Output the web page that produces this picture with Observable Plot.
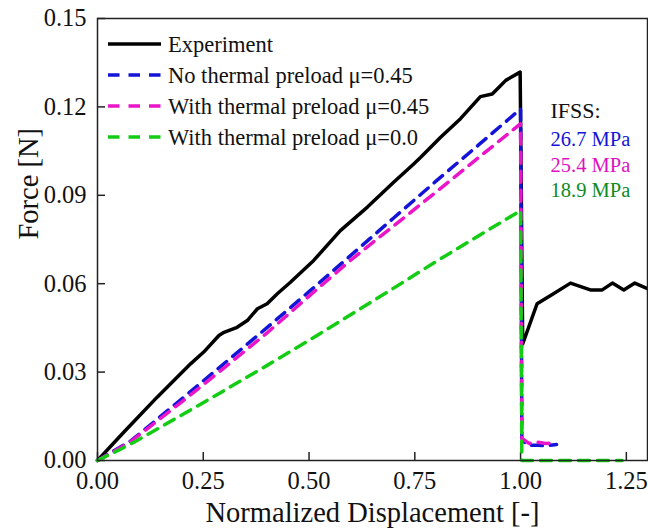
<!DOCTYPE html>
<html>
<head>
<meta charset="utf-8">
<script src="https://cdn.jsdelivr.net/npm/d3@7"></script>
<script src="https://cdn.jsdelivr.net/npm/@observablehq/plot@0.6"></script>
<style>
  html, body { margin: 0; padding: 0; background: #fff; }
  #chart { width: 648px; height: 530px; font-family: "Liberation Serif", serif; }
</style>
</head>
<body>
<div id="chart"></div>
<script>
// ---- Data ----
const expX = [0, 0.062, 0.141, 0.220, 0.251, 0.287, 0.299, 0.330, 0.354, 0.378, 0.401, 0.425, 0.456, 0.511, 0.574, 0.638, 0.700, 0.748, 0.764, 0.811, 0.858, 0.905, 0.933, 0.949, 0.965, 0.999, 1.005, 1.039, 1.071, 1.118, 1.165, 1.193, 1.217, 1.244, 1.270, 1.300];
const expY = [0, 0.0096, 0.0215, 0.0328, 0.0368, 0.0424, 0.0435, 0.0452, 0.0475, 0.0515, 0.0532, 0.0566, 0.0605, 0.0679, 0.0780, 0.0860, 0.0944, 0.1007, 0.1029, 0.1097, 0.1160, 0.1235, 0.1244, 0.1267, 0.1290, 0.1318, 0.0396, 0.0532, 0.0560, 0.0602, 0.0579, 0.0579, 0.0602, 0.0579, 0.0602, 0.0583];

const noPreX = [0, 0.04, 0.08, 0.2, 0.3, 0.4, 0.5, 0.6, 0.7, 0.8, 0.9, 1.0, 1.003, 1.015, 1.04, 1.06, 1.085];
const noPreY = [0, 0.0034, 0.0068, 0.0210, 0.0330, 0.0450, 0.0573, 0.0698, 0.0823, 0.0948, 0.1070, 0.1193, 0.0075, 0.0052, 0.0052, 0.0050, 0.0054];

const withX = [0, 0.04, 0.08, 0.2, 0.3, 0.4, 0.5, 0.6, 0.7, 0.8, 0.9, 1.0, 1.003, 1.02, 1.04, 1.06, 1.085];
const withY = [0, 0.0032, 0.0066, 0.0200, 0.0315, 0.0432, 0.0558, 0.0682, 0.0796, 0.0911, 0.1027, 0.1143, 0.0075, 0.0058, 0.0062, 0.0058, 0.0060];

const zeroX = [0, 0.05, 0.09, 0.2, 0.3, 0.4, 0.5, 0.6, 0.7, 0.8, 0.9, 1.0, 1.003, 1.24];
const zeroY = [0, 0.0035, 0.0065, 0.0155, 0.0238, 0.0322, 0.0408, 0.0496, 0.0585, 0.0675, 0.0762, 0.0848, 0.0, 0.0];

const seriesNames = ["Experiment", "No thermal preload \u03BC=0.45", "With thermal preload \u03BC=0.45", "With thermal preload \u03BC=0.0"];
const xTicks = [0, 0.25, 0.5, 0.75, 1.0, 1.25];
const yTicks = [0, 0.03, 0.06, 0.09, 0.12, 0.15];
const ifssTitle = "IFSS:";
const ifssLabels = ["26.7 MPa", "25.4 MPa", "18.9 MPa"];

// ---- Styles ----
const colExp = "#000000";
const colBlue = "#1414d8";
const colMag = "#ea14c8";
const colGreen = "#14cc14";
const ifssColors = ["#1414d8", "#e010c0", "#0f8a1f"];
const dash = "11,8";
const font = "Liberation Serif";

const toRows = (xs, ys) => xs.map((x, i) => ({x, y: ys[i]}));
const exp = toRows(expX, expY);
const noPre = toRows(noPreX, noPreY);
const withP = toRows(withX, withY);
const zero = toRows(zeroX, zeroY);

const chart = Plot.plot({
  width: 648,
  height: 530,
  marginLeft: 97,
  marginRight: 1,
  marginTop: 18,
  marginBottom: 70,
  style: {fontFamily: font, fontSize: "24px", color: "#111", background: "#fff"},
  x: {domain: [0, 1.3]},
  y: {domain: [0, 0.15]},
  marks: [
    Plot.axisX({ticks: xTicks, tickFormat: d3.format(".2f"), tickSize: -8, tickPadding: 19, stroke: "#222", strokeWidth: 1.5, fontSize: 24.5, fontFamily: font, fill: "#111", label: null}),
    Plot.axisY({ticks: yTicks, tickFormat: d3.format(".2f"), tickSize: -8, tickPadding: 19, stroke: "#222", strokeWidth: 1.5, fontSize: 24.5, fontFamily: font, fill: "#111", label: null}),
    Plot.line(exp, {x: "x", y: "y", stroke: colExp, strokeWidth: 3.5, strokeLinejoin: "round"}),
    Plot.line(noPre, {x: "x", y: "y", stroke: colBlue, strokeWidth: 3.5, strokeDasharray: dash}),
    Plot.line(withP, {x: "x", y: "y", stroke: colMag, strokeWidth: 3.5, strokeDasharray: dash}),
    Plot.line(zero, {x: "x", y: "y", stroke: colGreen, strokeWidth: 3.5, strokeDasharray: dash}),
    Plot.frame({stroke: "#222", strokeWidth: 1.5}),
    Plot.text(["Normalized Displacement [-]"], {frameAnchor: "bottom", lineAnchor: "middle", dy: 52, fontSize: 28.5, fontFamily: font, fill: "#111"}),
    Plot.text(["Force [N]"], {frameAnchor: "left", lineAnchor: "middle", dx: -69, rotate: -90, fontSize: 28.5, fontFamily: font, fill: "#111"}),
    Plot.text([ifssTitle], {frameAnchor: "top-left", lineAnchor: "middle", dx: 453, dy: 92, textAnchor: "start", fontSize: 22, fontFamily: font, fill: "#111"}),
    ...ifssLabels.map((lab, i) => Plot.text([lab], {frameAnchor: "top-left", lineAnchor: "middle", dx: 453, dy: 121 + i * 25.5, textAnchor: "start", fontSize: 20.5, fontFamily: font, fill: ifssColors[i]}))
  ]
});
document.getElementById("chart").appendChild(chart);

const svg = d3.select(chart);

// Legend inside the plot (top-left)
const legend = svg.append("g").attr("font-family", font).attr("font-size", 22.5).attr("text-anchor", "start");
const legStyles = [
  {stroke: colExp, dash: null},
  {stroke: colBlue, dash: "11.5,9"},
  {stroke: colMag, dash: "11.5,9"},
  {stroke: colGreen, dash: "11.5,9"}
];
seriesNames.forEach((name, i) => {
  const y = 44 + i * 31;
  const ln = legend.append("line").attr("x1", 108).attr("x2", 161).attr("y1", y).attr("y2", y)
    .attr("stroke", legStyles[i].stroke).attr("stroke-width", 3.5);
  if (legStyles[i].dash) ln.attr("stroke-dasharray", legStyles[i].dash);
  legend.append("text").attr("x", 168).attr("y", y).attr("dy", "0.35em")
    .attr("text-anchor", "start").attr("fill", "#111").text(name);
});

svg.style("font-family", "'Liberation Serif', serif");
</script>
</body>
</html>
